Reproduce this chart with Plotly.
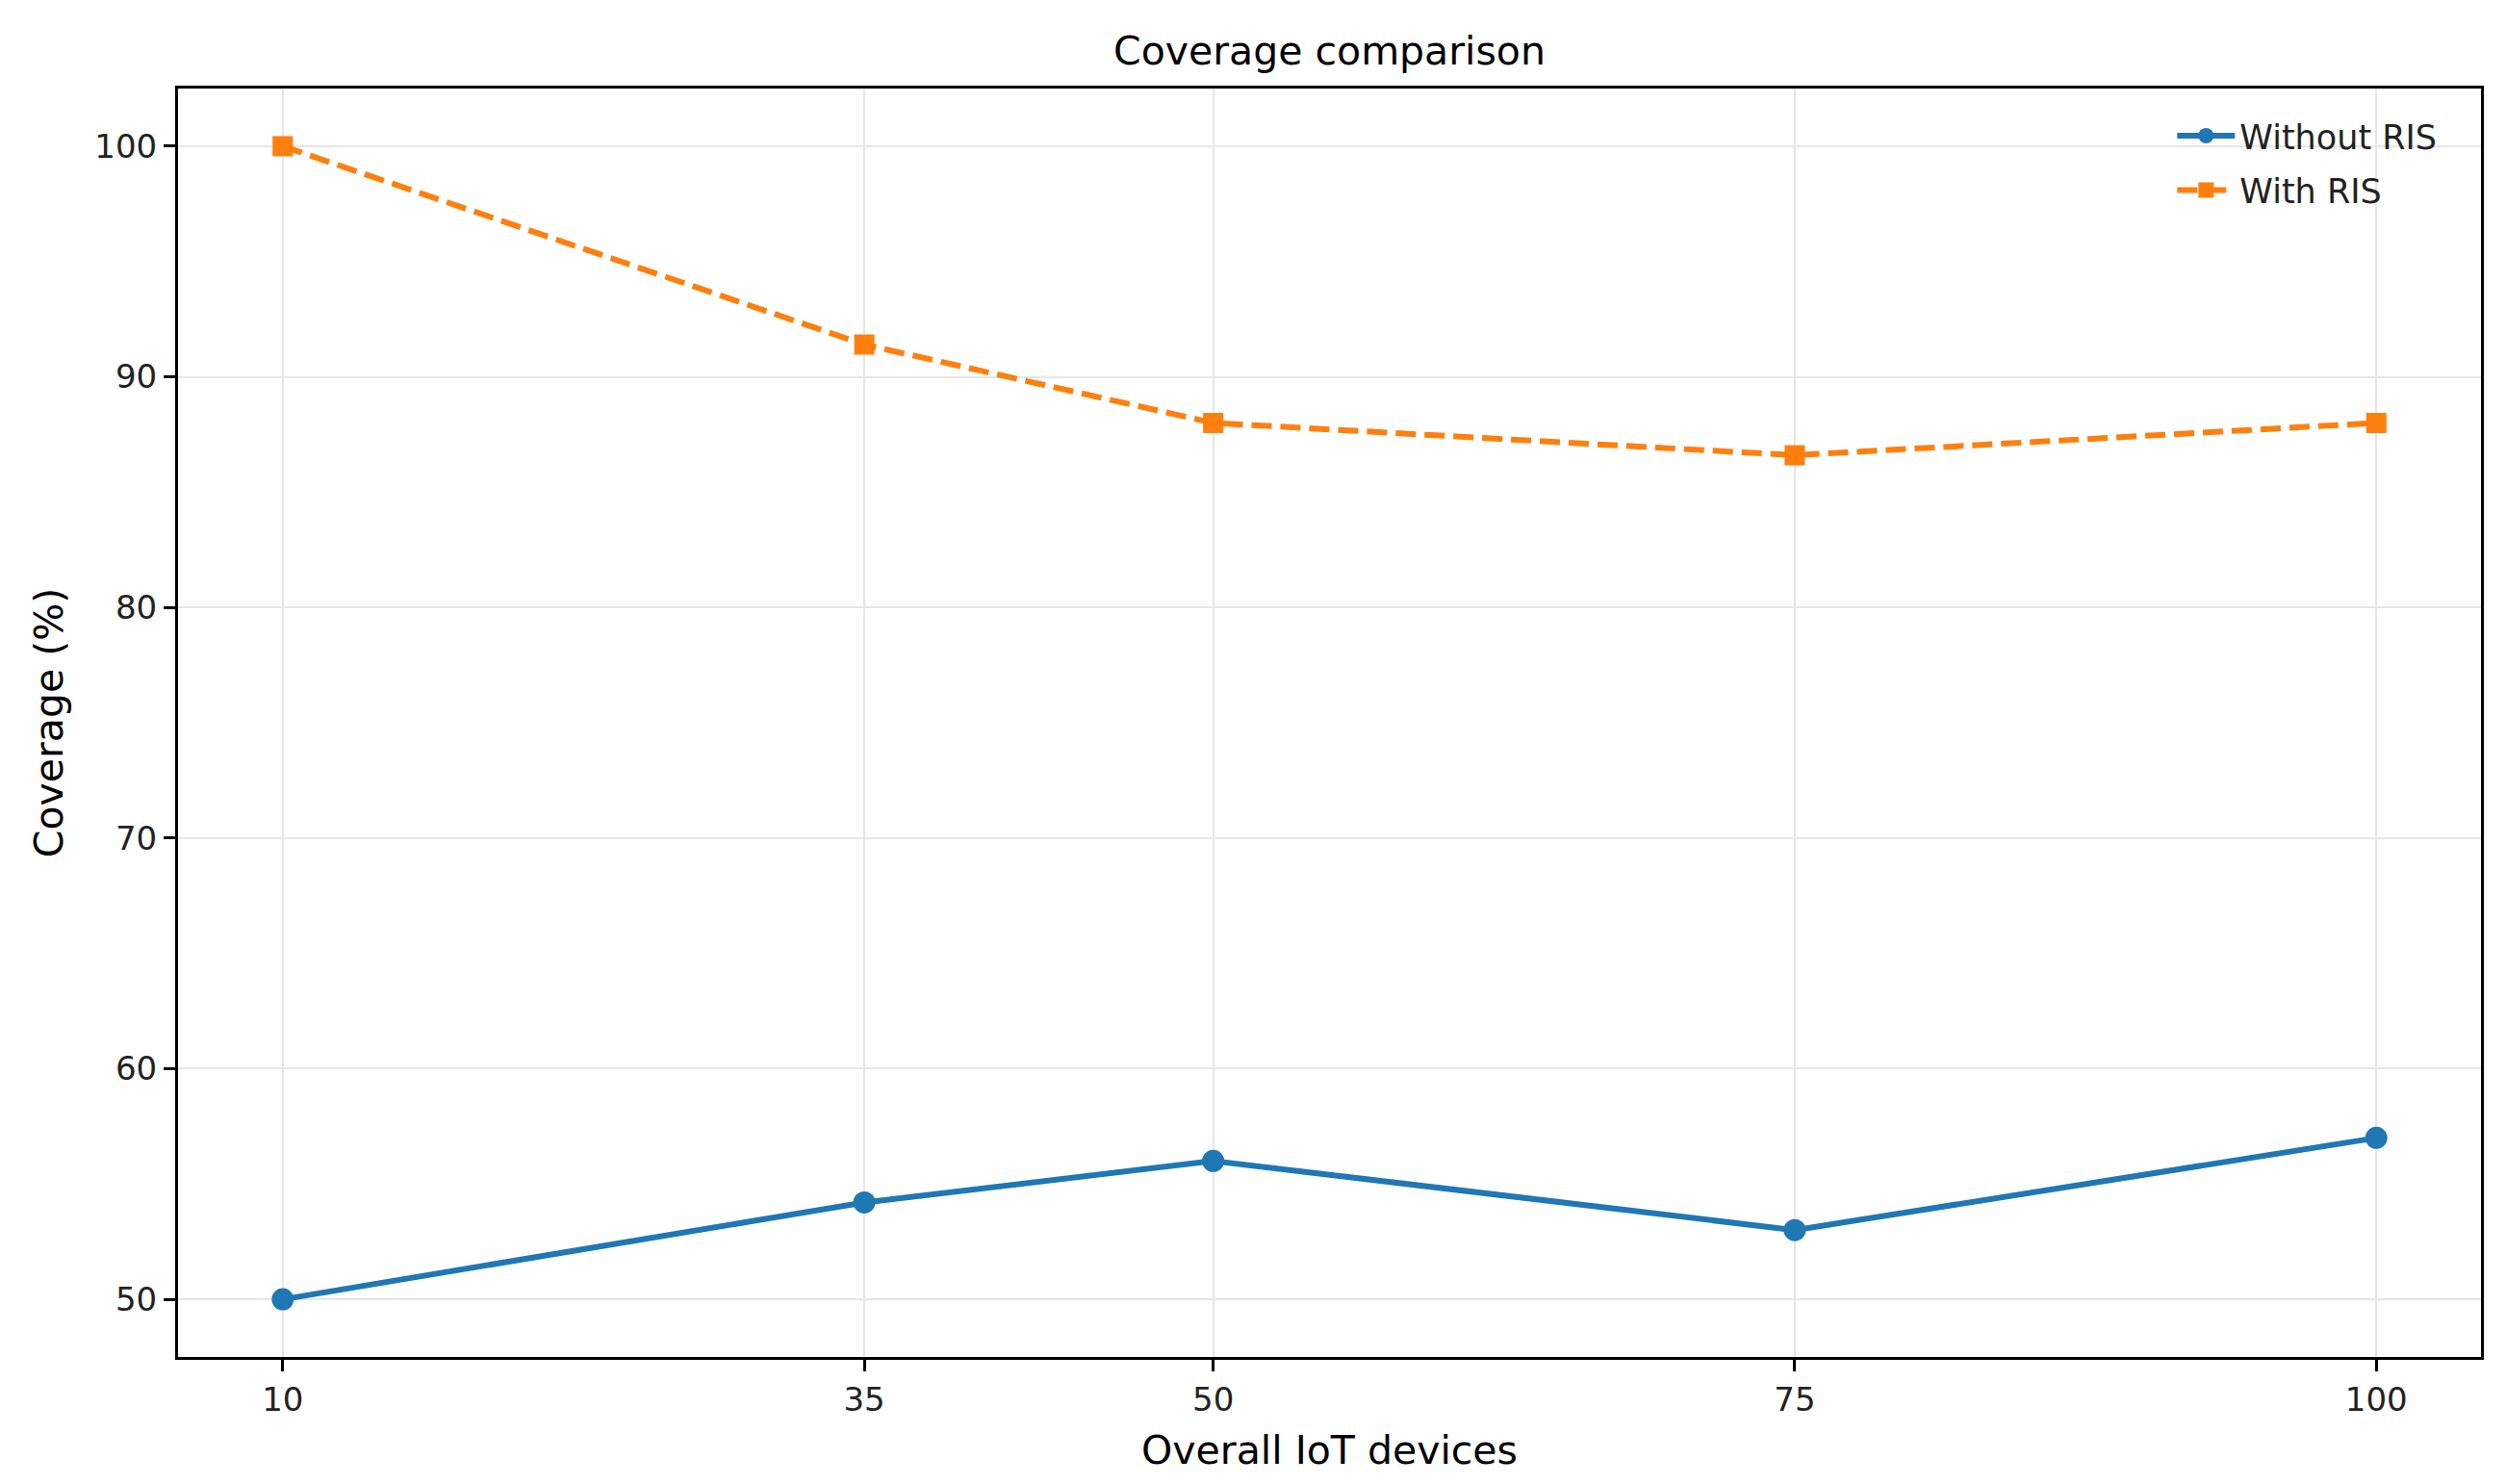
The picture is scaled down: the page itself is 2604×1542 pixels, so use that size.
import plotly.graph_objects as go

devices = [10, 35, 50, 75, 100]
without_ris = [50.0, 54.2, 56.0, 53.0, 57.0]
with_ris = [100.0, 91.4, 88.0, 86.6, 88.0]
x_ticks = [10, 35, 50, 75, 100]
y_ticks = [50, 60, 70, 80, 90, 100]

FONT = "DejaVu Sans"
grid = "#e6e6e6"

W, H = 2588, 1526
L, R, T, B = 177, 2570, 84, 1405

fig = go.Figure()
fig.add_trace(go.Scatter(
    x=devices, y=without_ris, name="Without RIS", mode="lines+markers",
    legendgroup="a",
    line=dict(color="#1f77b4", width=6),
    marker=dict(symbol="circle", size=23, color="#1f77b4"),
))
fig.add_trace(go.Scatter(
    x=devices, y=with_ris, name="With RIS", mode="lines+markers",
    legendgroup="b",
    line=dict(color="#ff7f0e", width=6, dash="21px,9px"),
    marker=dict(symbol="square", size=21, color="#ff7f0e"),
))

axis_common = dict(
    showline=True, linecolor="black", linewidth=3, mirror=True,
    ticks="outside", ticklen=12, tickwidth=3, tickcolor="black",
    showgrid=True, gridcolor=grid, gridwidth=2, zeroline=False,
    tickfont=dict(family=FONT, size=34, color="#222222"),
)

fig.update_layout(
    width=W, height=H,
    margin=dict(l=L, r=W - R, t=T, b=H - B),
    paper_bgcolor="white", plot_bgcolor="white",
    font=dict(family=FONT, color="black"),
    title=dict(text="Coverage comparison", x=(L + R) / 2 / W, xanchor="center",
               y=1 - 45 / H, yanchor="middle",
               font=dict(family=FONT, size=41, color="black")),
    xaxis=dict(range=[5.5, 104.5], tickvals=x_ticks, ticktext=[str(v) for v in x_ticks],
               title=dict(text="Overall IoT devices", font=dict(family=FONT, size=41), standoff=20),
               **axis_common),
    yaxis=dict(range=[47.5, 102.5], tickvals=y_ticks, ticktext=[str(v) for v in y_ticks],
               title=dict(text="Coverage (%)", font=dict(family=FONT, size=41), standoff=20),
               **axis_common),
    legend=dict(x=0.983, y=0.985, xanchor="right", yanchor="top",
                bgcolor="rgba(255,255,255,0)", borderwidth=0,
                font=dict(family=FONT, size=35, color="#222222"),
                traceorder="grouped", itemwidth=60, tracegroupgap=8),
)

fig.write_html("out.html")
